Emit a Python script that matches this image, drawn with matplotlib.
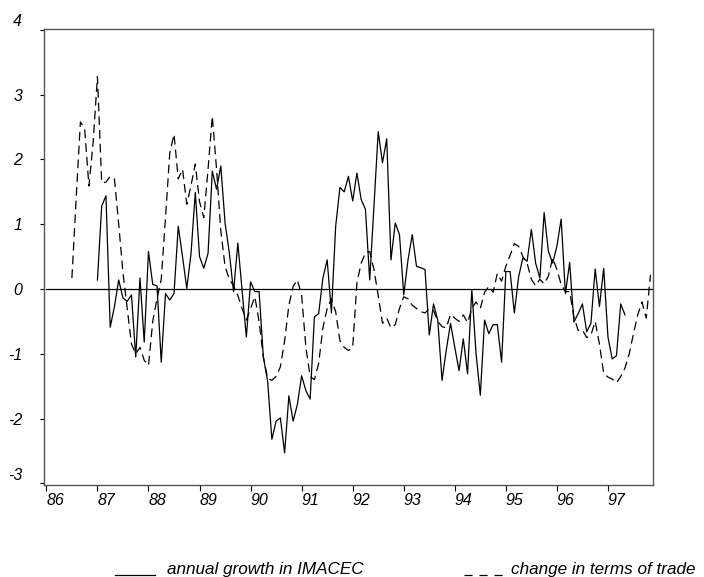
import matplotlib
matplotlib.use("Agg")
import matplotlib.pyplot as plt
from matplotlib.lines import Line2D
from matplotlib.transforms import ScaledTranslation

plt.rcParams['font.family'] = ['Liberation Sans', 'DejaVu Sans']

# month index 0 = 1986:01
imacec_start = 12  # 1987:01
imacec = [0.14, 1.28, 1.44, -0.59, -0.27, 0.14, -0.14, -0.19, -0.09, -1.05, 0.17, -0.82,
          0.58, 0.07, 0.05, -1.13, -0.07, -0.17, -0.07, 0.97, 0.5, 0.01, 0.55, 1.49,
          0.5, 0.32, 0.55, 1.82, 1.54, 1.9, 1.02, 0.56, -0.04, 0.71, -0.02, -0.74,
          0.11, -0.04, -0.04, -1.05, -1.42, -2.32, -2.04, -1.99, -2.53, -1.65, -2.04, -1.78,
          -1.34, -1.57, -1.70, -0.43, -0.38, 0.17, 0.45, -0.37, 0.97, 1.57, 1.50, 1.74,
          1.36, 1.79, 1.38, 1.23, 0.14, 1.28, 2.43, 1.95, 2.32, 0.45, 1.02, 0.84,
          -0.09, 0.45, 0.84, 0.35, 0.33, 0.30, -0.71, -0.23, -0.48, -1.41, -0.94, -0.53,
          -0.9, -1.26, -0.77, -1.31, -0.01, -1.0, -1.64, -0.48, -0.69, -0.55, -0.55, -1.13,
          0.27, 0.27, -0.37, 0.19, 0.48, 0.43, 0.92, 0.40, 0.17, 1.18, 0.58, 0.4,
          0.66, 1.08, -0.07, 0.41, -0.51, -0.38, -0.23, -0.66, -0.53, 0.31, -0.27, 0.32,
          -0.74, -1.08, -1.03, -0.23, -0.40]

tot_start = 6  # 1986:07
tot = [0.17, 1.4, 2.58, 2.47, 1.59, 2.27,
       3.28, 1.64, 1.65, 1.74, 1.7, 1.0, 0.25, -0.3, -0.85, -1.0, -0.9, -1.1,
       -1.18, -0.5, -0.15, 0.15, 1.1, 2.1, 2.39, 1.70, 1.85, 1.31, 1.6, 1.93,
       1.35, 1.1, 1.85, 2.67, 1.85, 0.9, 0.35, 0.15, 0.05, -0.1, -0.3, -0.48,
       -0.3, -0.12, -0.5, -1.05, -1.38, -1.41, -1.35, -1.2, -0.8, -0.25, 0.04, 0.14,
       -0.1, -0.9, -1.35, -1.4, -1.15, -0.6, -0.3, -0.15, -0.35, -0.8, -0.9, -0.95,
       -0.9, 0.1, 0.4, 0.56, 0.58, 0.3, -0.1, -0.53, -0.45, -0.6, -0.55, -0.3,
       -0.12, -0.15, -0.25, -0.3, -0.35, -0.37, -0.3, -0.33, -0.5, -0.58, -0.6, -0.39,
       -0.45, -0.5, -0.4, -0.52, -0.3, -0.2, -0.3, -0.05, 0.04, -0.05, 0.24, 0.12,
       0.35, 0.52, 0.7, 0.66, 0.5, 0.4, 0.15, 0.05, 0.15, 0.08, 0.2, 0.48,
       0.3, 0.07, -0.04, -0.04, -0.43, -0.64, -0.63, -0.75, -0.71, -0.5, -0.85, -1.3,
       -1.36, -1.39, -1.45, -1.35, -1.22, -1.0, -0.69, -0.4, -0.2, -0.45, 0.22]

years = ['86', '87', '88', '89', '90', '91', '92', '93', '94', '95', '96', '97']
yticks = [-3, -2, -1, 0, 1, 2, 3, 4]

W, H = 704, 577
fig = plt.figure(figsize=(W / 100, H / 100), dpi=100)
ax = fig.add_axes([44.3 / W, 1 - 485 / H, (653.3 - 44.3) / W, (485 - 29) / H])

x1 = list(range(imacec_start, imacec_start + len(imacec)))
x2 = list(range(tot_start, tot_start + len(tot)))
ax.plot(x1, imacec, color='black', lw=0.9)
l2, = ax.plot(x2, tot, color='black', lw=0.9)
l2.set_dashes((7, 4))
ax.plot([0, 142.3], [0, 0], color='black', lw=0.9)

ax.set_xlim(-0.49, 142.66)
ax.set_ylim(-3.026, 4.015)

ax.set_xticks([12 * i for i in range(len(years))])
ax.set_xticklabels(years, ha='left', style='italic', fontsize=11.5)
ax.set_yticks(yticks)
ax.set_yticklabels([str(v) for v in yticks], style='italic', fontsize=11.5)
ax.tick_params(axis='x', direction='out', length=4.3, width=0.8, pad=1.5)
ax.tick_params(axis='y', direction='out', length=3, width=0.8, pad=13)
for s in ax.spines.values():
    s.set_color('#555555')
    s.set_linewidth(1.0)

# the end labels sit a bit above their ticks
for lab in (ax.get_yticklabels()[0], ax.get_yticklabels()[-1]):
    lab.set_transform(lab.get_transform() + ScaledTranslation(0, 7 / 72, fig.dpi_scale_trans))

# legend below the chart
fig.add_artist(Line2D([115 / W, 155 / W], [1 - 575 / H, 1 - 575 / H], color='black', lw=0.9))
fig.text(167 / W, 1 - 574 / H, 'annual growth in IMACEC', style='italic', fontsize=12.3,
         ha='left', va='baseline')
leg2 = Line2D([464 / W, 504 / W], [1 - 575 / H, 1 - 575 / H], color='black', lw=0.9)
leg2.set_dashes((6.5, 5.5))
fig.add_artist(leg2)
fig.text(511 / W, 1 - 574 / H, 'change in terms of trade', style='italic', fontsize=12.3,
         ha='left', va='baseline')

plt.savefig('out.png', dpi=100)
